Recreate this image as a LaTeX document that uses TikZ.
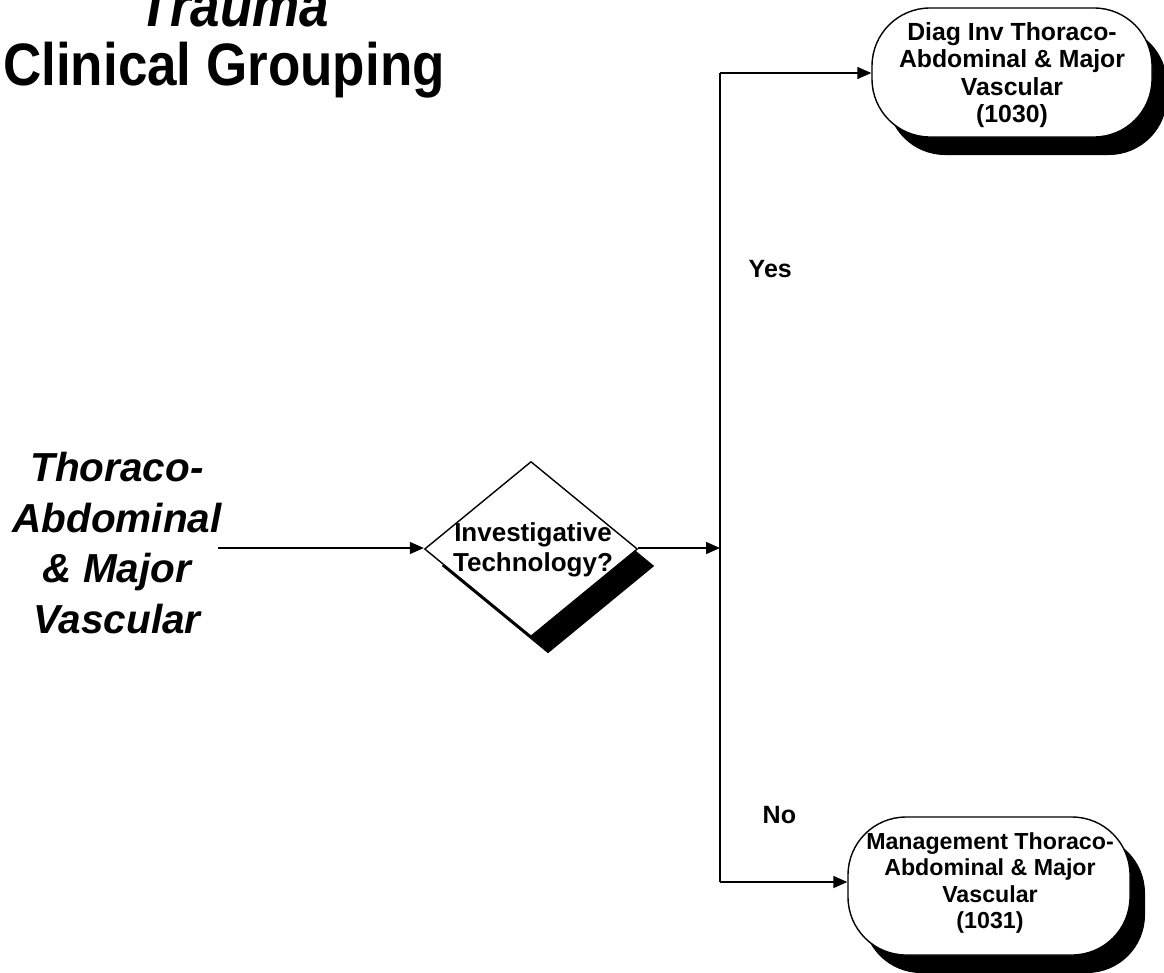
\documentclass[tikz,border=0pt]{standalone}
\usepackage{fontspec}
\setmainfont{Liberation Sans}
\usetikzlibrary{shapes.geometric,shadows,arrows.meta}
\begin{document}
\begin{tikzpicture}[x=1pt,y=-1pt,
  line width=1.4pt,
  arr/.style={-{Triangle[length=14pt,width=12pt]}},
  boxshadow/.style={drop shadow={shadow xshift=15pt,shadow yshift=-18pt,fill=black,opacity=1}},
  endbox/.style={draw,fill=white,rounded corners=58pt,inner sep=0pt,boxshadow},
  boxtext/.style={align=center,font=\bfseries\fontsize{24.8}{27.3}\selectfont,inner sep=0pt},
  lbl/.style={font=\bfseries\fontsize{25}{30}\selectfont,inner sep=0pt,anchor=base west},
  ttl/.style={inner sep=0pt,anchor=base}
]
\useasboundingbox (0,0) rectangle (1164,972);
% titles
\node[ttl,font=\bfseries\itshape\fontsize{53}{60}\selectfont] (t1) at (234,26) {\scalebox{1}[1.13]{Trauma}};
\node[ttl,font=\bfseries\fontsize{53}{60}\selectfont] (t2) at (224,85) {\scalebox{1}[1.13]{Clinical Grouping}};
% left text
\node[inner sep=0pt,align=center,font=\bfseries\itshape\fontsize{40.5}{50.5}\selectfont] (lt) at (117,543) {Thoraco-\\Abdominal\\\& Major\\Vascular};
% diamond
\node[draw,fill=white,shape=diamond,minimum width=213pt,minimum height=175pt,inner sep=0pt,
  drop shadow={shadow xshift=17pt,shadow yshift=-17pt,fill=black,opacity=1}] (d) at (531,549) {};
\node[align=center,inner sep=0pt,font=\bfseries\fontsize{26}{30}\selectfont] (dt) at (533,550) {Investigative\\Technology?};
% end boxes
\node[endbox,minimum width=280pt,minimum height=129pt] (top) at (1012,72.5) {};
\node[boxtext] (topt) at (1012,75) {Diag Inv Thoraco-\\Abdominal \& Major\\Vascular\\(1030)};
\node[endbox,minimum width=282pt,minimum height=138pt] (bot) at (989,886) {};
\node[boxtext,font=\bfseries\fontsize{23.2}{26.3}\selectfont] (bott) at (990,883) {Management Thoraco-\\Abdominal \& Major\\Vascular\\(1031)};
% connectors
\coordinate (s) at (218,548);
\coordinate (j) at (720,548);
\coordinate (jt) at (720,73);
\coordinate (jb) at (720,882);
\draw[arr] (s) -- (s -| d.west);
\draw[arr] (s -| d.east) -- (j);
\draw (jt) -- (jb);
\draw[arr] (jt) -- (jt -| top.west);
\draw[arr] (jb) -- (jb -| bot.west);
% labels
\node[lbl] (yes) at (748,277) {Yes};
\node[lbl] (no) at (762,823) {No};
\end{tikzpicture}
\end{document}
